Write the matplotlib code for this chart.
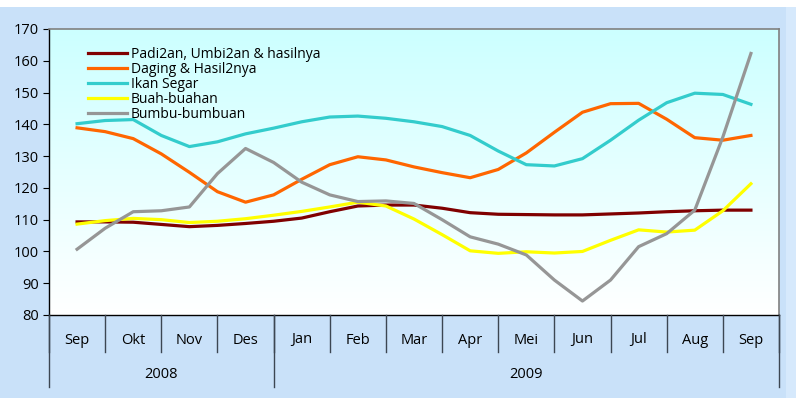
import numpy as np
import matplotlib
matplotlib.use("Agg")
import matplotlib.pyplot as plt
from matplotlib.transforms import blended_transform_factory
from matplotlib.colors import LinearSegmentedColormap

plt.rcParams['font.family'] = ['Open Sans', 'DejaVu Sans']

months = ["Sep", "Okt", "Nov", "Des", "Jan", "Feb", "Mar", "Apr", "Mei", "Jun", "Jul", "Aug", "Sep"]
years = ["2008", "2009"]
year_spans = [(0, 3), (4, 12)]

series_names = ["Padi2an, Umbi2an & hasilnya", "Daging & Hasil2nya", "Ikan Segar",
                "Buah-buahan", "Bumbu-bumbuan"]

# half-month readings, Sep 2008 .. Sep 2009
padi = [109.3, 109.3, 109.2, 108.5, 107.8, 108.2, 108.8, 109.5, 110.5, 112.5, 114.3, 114.6, 114.6,
        113.6, 112.2, 111.7, 111.6, 111.5, 111.5, 111.8, 112.1, 112.5, 112.8, 113.0, 113.0]
daging = [138.9, 137.7, 135.5, 130.7, 124.9, 118.8, 115.5, 117.8, 122.7, 127.3, 129.8, 128.8, 126.6,
          124.8, 123.2, 125.8, 131.0, 137.5, 143.8, 146.5, 146.6, 141.6, 135.8, 135.0, 136.5]
ikan = [140.2, 141.2, 141.5, 136.5, 133.0, 134.5, 137.0, 138.8, 140.8, 142.3, 142.6, 141.9, 140.8,
        139.3, 136.5, 131.6, 127.3, 126.9, 129.2, 135.0, 141.3, 146.8, 149.8, 149.4, 146.3]
buah = [108.6, 109.7, 110.4, 110.0, 109.1, 109.5, 110.3, 111.4, 112.6, 114.0, 115.5, 114.3, 110.2,
        105.3, 100.2, 99.4, 99.9, 99.5, 100.0, 103.5, 106.8, 106.1, 106.7, 112.8, 121.3]
bumbu = [100.7, 107.3, 112.5, 112.8, 114.0, 124.5, 132.4, 128.0, 121.8, 117.8, 115.7, 115.9, 115.1,
         110.0, 104.6, 102.3, 98.9, 91.0, 84.4, 91.0, 101.5, 105.6, 113.0, 136.0, 162.3]

colors = ["#800000", "#ff6600", "#33cccc", "#ffff00", "#969696"]

W, H = 796, 398
fig = plt.figure(figsize=(W / 100, H / 100), dpi=100)
fig.patch.set_facecolor("#c9e1f9")
# white top band and lighter right band
fig.patches.append(plt.Rectangle((0, 1 - 7 / H), 1, 7 / H, transform=fig.transFigure,
                                 facecolor="white", edgecolor="none", zorder=0))
fig.patches.append(plt.Rectangle((786 / W, 0), 1, 1 - 7 / H, transform=fig.transFigure,
                                 facecolor="#d6e9fc", edgecolor="none", zorder=0))

L, R, T, B = 49, 779, 29, 315
ax = fig.add_axes([L / W, 1 - B / H, (R - L) / W, (B - T) / H])
ax.set_facecolor("none")

# gradient background
cmap = LinearSegmentedColormap.from_list("g", ["#ffffff", "#ccffff"])
grad = np.linspace(0, 1, 256).reshape(-1, 1)
ax.imshow(grad, cmap=cmap, aspect="auto", extent=(-0.5, 12.5, 80, 170),
          origin="lower", zorder=0)

x = np.arange(len(padi)) / 2.0
for vals, c, name in zip([padi, daging, ikan, buah, bumbu], colors, series_names):
    ax.plot(x, vals, color=c, lw=2.3, label=name, zorder=3, solid_joinstyle="round")

ax.set_xlim(-0.5, 12.5)
ax.set_ylim(80, 170)
ax.set_yticks(np.arange(80, 171, 10))
ax.tick_params(axis="y", length=4, width=0.8, labelsize=10.5, pad=3, colors="black")
ax.set_xticks([])

for s in ["top", "right"]:
    ax.spines[s].set_color("#808080")
    ax.spines[s].set_linewidth(1.2)
for s in ["left", "bottom"]:
    ax.spines[s].set_color("black")
    ax.spines[s].set_linewidth(1.0)

trans = blended_transform_factory(ax.transData, ax.transAxes)
ph = B - T
# month separators
for k in range(14):
    xx = -0.5 + k
    ax.plot([xx, xx], [0, -37 / ph], transform=trans, color="#3c4652", lw=1.0,
            clip_on=False, zorder=5)
for i, m in enumerate(months):
    ax.text(i, -25 / ph, m, transform=trans, ha="center", va="center", fontsize=10.5)
# year separators
for xx in [-0.5, 3.5, 12.5]:
    ax.plot([xx, xx], [0, -72 / ph], transform=trans, color="#3c4652", lw=1.0,
            clip_on=False, zorder=5)
for yr, (a, b) in zip(years, year_spans):
    ax.text((a + b) / 2, -60 / ph, yr, transform=trans, ha="center", va="center", fontsize=10.5)

leg = ax.legend(loc="upper left", bbox_to_anchor=(39 / (R - L), 1 - 18 / ph), frameon=False,
                fontsize=10, handlelength=2.8, handletextpad=0.3, labelspacing=0.0,
                borderaxespad=0, borderpad=0)
for ln in leg.get_lines():
    ln.set_linewidth(2.3)

fig.savefig("out.png", dpi=100, facecolor=fig.get_facecolor())
